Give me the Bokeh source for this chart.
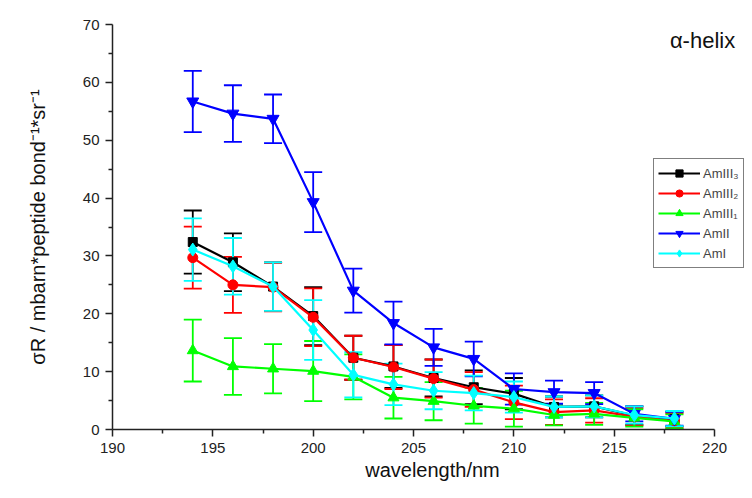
from bokeh.plotting import figure
from bokeh.models import (ColumnDataSource, Whisker, TeeHead, Legend, LegendItem,
                          FixedTicker, Label, Range1d)
from bokeh.embed import file_html
from bokeh.resources import INLINE

wavelength = [194, 196, 198, 200, 202, 204, 206, 208, 210, 212, 214, 216, 218]

amIII3 = [32.4, 28.9, 24.7, 19.6, 12.4, 10.9, 8.9, 7.3, 6.2, 3.9, 4.0, 2.4, 1.8]
amIII3_err = [5.45, 5.0, 4.2, 5.0, 3.8, 3.7, 3.2, 2.9, 2.7, 1.8, 1.9, 1.6, 1.3]

amIII2 = [29.7, 25.0, 24.6, 19.4, 12.4, 10.8, 8.8, 6.9, 4.7, 3.0, 3.3, 2.2, 1.5]
amIII2_err = [5.35, 4.85, 4.2, 5.0, 3.8, 3.8, 3.3, 3.0, 2.9, 2.2, 2.1, 1.5, 1.3]

amIII1 = [13.65, 10.9, 10.5, 10.1, 9.1, 5.5, 4.9, 4.1, 3.6, 2.5, 2.7, 2.0, 1.4]
amIII1_err = [5.35, 4.9, 4.25, 5.2, 3.9, 3.6, 3.3, 3.1, 3.1, 1.8, 1.9, 1.5, 1.2]

amII = [56.7, 54.6, 53.7, 39.3, 24.0, 18.4, 14.2, 12.2, 7.0, 6.45, 6.3, 2.7, 1.85]
amII_err = [5.3, 4.9, 4.2, 5.2, 3.8, 3.7, 3.2, 3.0, 2.7, 2.0, 1.9, 1.3, 1.2]

amI = [31.1, 28.2, 24.7, 17.2, 9.45, 7.8, 6.7, 6.3, 5.6, 3.9, 4.0, 2.5, 1.9]
amI_err = [5.4, 4.9, 4.2, 5.15, 3.9, 3.6, 3.2, 3.0, 2.7, 1.8, 1.9, 1.5, 1.3]

series = [
    ("AmIII\u2083", amIII3, amIII3_err, "#000000", "square", 9),
    ("AmIII\u2082", amIII2, amIII2_err, "#FF0000", "circle", 10),
    ("AmIII\u2081", amIII1, amIII1_err, "#00FF00", "triangle", 11),
    ("AmII", amII, amII_err, "#0000FF", "inverted_triangle", 12),
    ("AmI", amI, amI_err, "#00FFFF", "diamond", 13),
]

FONT = "Liberation Sans"

# frame spans to the right edge so that legend and title are not clipped;
# the visible x-axis is bounded to 190..220
p = figure(width=752, height=498, output_backend="svg", toolbar_location=None,
           x_range=Range1d(190, 221.89), y_range=Range1d(0, 70),
           min_border_left=112, min_border_right=0, min_border_top=24,
           min_border_bottom=69)
p.outline_line_color = None
p.grid.visible = False
p.background_fill_color = "white"

items = []
for name, vals, errs, color, marker, size in series:
    src = ColumnDataSource(dict(x=wavelength, y=vals,
                                upper=[v + e for v, e in zip(vals, errs)],
                                lower=[v - e for v, e in zip(vals, errs)]))
    w = Whisker(source=src, base="x", upper="upper", lower="lower",
                line_color=color, line_width=1.8,
                upper_head=TeeHead(size=18, line_color=color, line_width=1.8),
                lower_head=TeeHead(size=18, line_color=color, line_width=1.8))
    p.add_layout(w)
    r_line = p.line("x", "y", source=src, line_color=color, line_width=2.2)
    r_pts = p.scatter("x", "y", source=src, marker=marker, size=size,
                      fill_color=color, line_color=color)
    items.append(LegendItem(label=name, renderers=[r_line, r_pts]))

legend = Legend(items=items, location=(541, 161), glyph_width=42, glyph_height=18,
                label_standoff=3, padding=4, spacing=0, margin=0,
                label_text_font=FONT, label_text_font_size="13px",
                label_height=20,
                border_line_color="black", border_line_width=1,
                background_fill_alpha=1.0)
p.add_layout(legend, "center")

p.add_layout(Label(x=219.4, y=67.2, text="\u03b1-helix", text_align="center",
                   text_baseline="middle", text_font=FONT, text_font_size="22px",
                   text_color="#111111"))

p.xaxis.ticker = FixedTicker(ticks=[190, 195, 200, 205, 210, 215, 220],
                             minor_ticks=[192.5, 197.5, 202.5, 207.5, 212.5, 217.5])
p.yaxis.ticker = FixedTicker(ticks=[0, 10, 20, 30, 40, 50, 60, 70],
                             minor_ticks=[5, 15, 25, 35, 45, 55, 65])
p.xaxis.bounds = (190, 220)

for ax in (p.xaxis, p.yaxis):
    ax.axis_line_color = "#222222"
    ax.axis_line_width = 1.5
    ax.major_tick_line_color = "#222222"
    ax.minor_tick_line_color = "#222222"
    ax.major_tick_line_width = 1.5
    ax.minor_tick_line_width = 1.5
    ax.major_tick_out = 7
    ax.major_tick_in = 0
    ax.minor_tick_out = 4
    ax.minor_tick_in = 0
    ax.major_label_text_font = FONT
    ax.major_label_text_font_size = "15px"
    ax.major_label_text_color = "#222222"
    ax.axis_label_text_font = FONT
    ax.axis_label_text_font_size = "20px"
    ax.axis_label_text_font_style = "normal"
    ax.axis_label_text_color = "#111111"
    ax.major_label_standoff = 6

p.xaxis.axis_label = "wavelength/nm"
p.xaxis.axis_label_standoff = 3
p.yaxis.axis_label = "\u03c3R / mbarn*peptide bond\u207b\u00b9*sr\u207b\u00b9"
p.yaxis.axis_label_standoff = 31

open("out.html", "w").write(file_html(p, INLINE))
